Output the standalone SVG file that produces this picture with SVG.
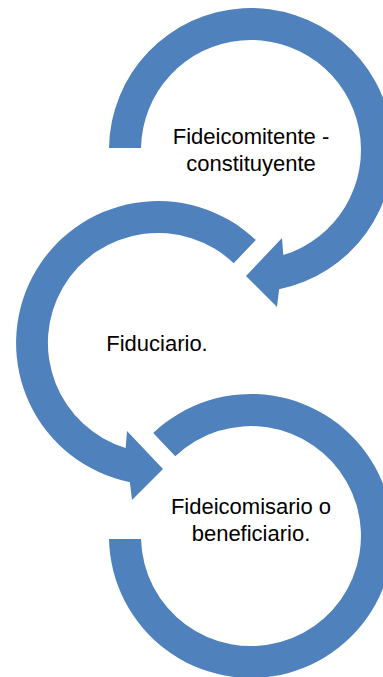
<svg xmlns="http://www.w3.org/2000/svg" width="383" height="677" viewBox="0 0 383 677">
  <style>
    .arc { fill: #4F81BD; stroke: none; }
    .lbl { font-family: "Liberation Sans", Arial, sans-serif; font-size: 22px; fill: #000000; text-anchor: middle; }
  </style>
  <rect x="0" y="0" width="383" height="677" fill="#FFFFFF"/>
  <g id="connectors"></g>
  <g id="node-fideicomitente">
    <path class="arc" d="M 109,148 A 142 142 0 1 1 279.1,289.2 L 277,307 L 246,276 L 282,238 L 283.3,255.1 A 110 110 0 1 0 141,148 Z"/>
    <text class="lbl" x="251" y="144">Fideicomitente -</text>
    <text class="lbl" x="251" y="171">constituyente</text>
  </g>
  <g id="node-fiduciario">
    <path class="arc" d="M 255.8,240 A 142 142 0 1 0 129.9,482.2 L 132,500 L 163,469 L 127,431 L 125.7,448.1 A 110 110 0 1 1 233.7,263.2 Z"/>
    <text class="lbl" x="157" y="351">Fiduciario.</text>
  </g>
  <g id="node-fideicomisario">
    <path class="arc" d="M 153.2,433 A 142 142 0 1 1 109,539 L 141,539 A 110 110 0 1 0 175.3,456.2 Z"/>
    <text class="lbl" x="251" y="514">Fideicomisario o</text>
    <text class="lbl" x="251" y="541">beneficiario.</text>
  </g>
</svg>
